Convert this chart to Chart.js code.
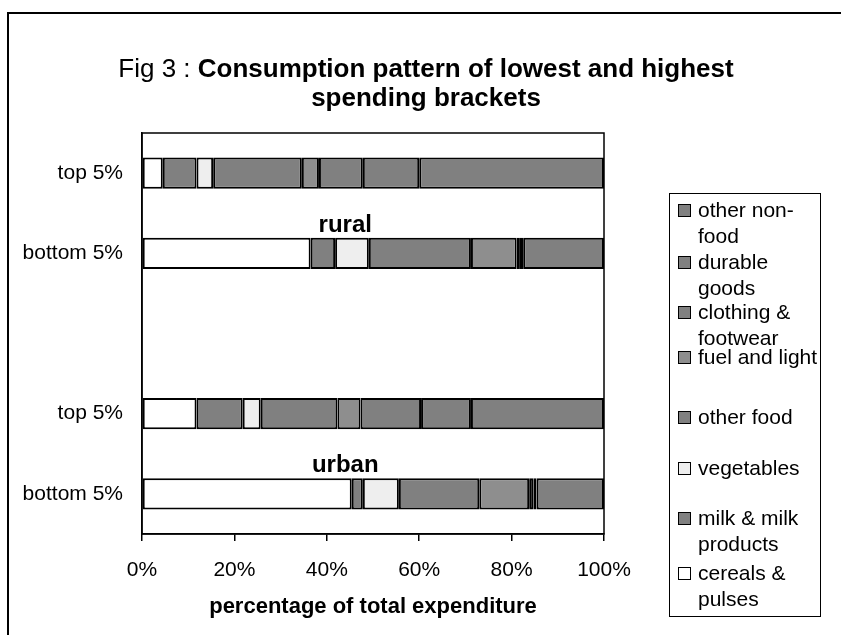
<!DOCTYPE html>
<html>
<head>
<meta charset="utf-8">
<script src="https://cdn.jsdelivr.net/npm/chart.js@4.4.1/dist/chart.umd.min.js"></script>
<style>
    html, body { margin: 0; padding: 0; background: #fff; overflow: hidden; }
    #wrap { position: relative; width: 841px; height: 635px; overflow: hidden; font-family: Arial, "Liberation Sans", sans-serif; color: #000; }
    #frame { position: absolute; left: 7px; top: 12px; width: 900px; height: 700px; border: 2px solid #000; }
    #chart { position: absolute; left: 0; top: 0; }
    #title { position: absolute; left: 0; width: 852px; top: 54px; text-align: center; font-size: 26px; line-height: 29px; }
    #legend { position: absolute; left: 669px; top: 193px; width: 150px; height: 422px; border: 1.5px solid #000; background: #fff; }
    .item { position: absolute; left: 28px; width: 124px; font-size: 21px; line-height: 26px; }
    .sw { position: absolute; left: -20px; top: 7px; width: 11px; height: 11px; border: 1px solid #000; }
</style>
</head>
<body>
<div id="wrap">
    <div id="frame"></div>
    <canvas id="chart" width="841" height="635"></canvas>
    <div id="title">Fig 3 : <b>Consumption pattern of lowest and highest</b><br><b>spending brackets</b></div>
    <div id="legend"></div>
</div>
<script>
// rows from top to bottom, blank row separates rural and urban
const rowLabels = ["top 5%", "bottom 5%", "", "top 5%", "bottom 5%"];
const groupLabels = ["rural", "urban"];
const groupRows = [1, 4];

const seriesNames = ["cereals & pulses", "milk & milk products", "vegetables", "other food",
    "fuel and light", "clothing & footwear", "durable goods", "other non-food"];
const cereals   = [4.5, 36.5, null, 11.8, 45.4];
const milk      = [7.3, 5.3, null, 10.0, 2.4];
const vegetables = [3.6, 7.3, null, 3.9, 7.8];
const otherFood = [19.2, 22.1, null, 16.6, 17.4];
const fuel      = [3.7, 9.9, null, 5.0, 10.8];
const clothing  = [9.5, 0.7, null, 13.1, 0.9];
const durable   = [12.2, 0.7, null, 10.8, 0.7];
const nonFood   = [40.0, 17.5, null, 28.8, 14.6];
const xTicks = [0, 20, 40, 60, 80, 100];

const seriesData = [cereals, milk, vegetables, otherFood, fuel, clothing, durable, nonFood];
const colors = ["#ffffff", "#808080", "#eeeeee", "#808080", "#8e8e8e", "#808080", "#808080", "#808080"];
const family = "Arial, 'Liberation Sans', sans-serif";

const datasets = seriesNames.map((name, i) => ({
    label: name,
    data: seriesData[i],
    backgroundColor: colors[i],
    borderColor: "#000",
    borderWidth: 2,
    borderSkipped: false,
    barPercentage: 0.39,
    categoryPercentage: 1.0,
}));

// plot box and the rural / urban captions
const extras = {
    id: "extras",
    afterDatasetsDraw(chart) {
        const { ctx, chartArea: a, scales } = chart;
        ctx.save();
        ctx.strokeStyle = "#000";
        ctx.lineWidth = 1.5;
        ctx.strokeRect(a.left, a.top, a.right - a.left, a.bottom - a.top);
        ctx.fillStyle = "#000";
        ctx.font = "bold 24px " + family;
        ctx.textAlign = "center";
        ctx.textBaseline = "alphabetic";
        const meta = chart.getDatasetMeta(0);
        groupLabels.forEach((g, i) => {
            const bar = meta.data[groupRows[i]];
            ctx.fillText(g, scales.x.getPixelForValue(44), bar.y - bar.height / 2 - 6);
        });
        ctx.restore();
    }
};

new Chart(document.getElementById("chart"), {
    type: "bar",
    data: { labels: rowLabels, datasets: datasets },
    options: {
        indexAxis: "y",
        responsive: false,
        animation: false,
        layout: { padding: { left: 0, top: 133, right: 237, bottom: 0 } },
        plugins: { legend: { display: false }, tooltip: { enabled: false } },
        scales: {
            x: {
                stacked: true,
                min: 0,
                max: 100,
                afterBuildTicks: (s) => { s.ticks = xTicks.map(v => ({ value: v })); },
                afterFit: (s) => { s.height = 101; },
                ticks: { color: "#000", font: { size: 21, family }, padding: 17, callback: (v) => v + "%" },
                grid: { drawOnChartArea: false, tickLength: 7, color: "#000", lineWidth: 1.5 },
                border: { color: "#000", width: 1.5 },
                title: {
                    display: true,
                    text: "percentage of total expenditure",
                    color: "#000",
                    font: { size: 22, weight: "bold", family },
                    padding: { top: 0, bottom: 15 },
                },
            },
            y: {
                stacked: true,
                afterFit: (s) => { s.width = 142; },
                ticks: { color: "#000", font: { size: 21, family }, padding: 19 },
                grid: { display: false, drawTicks: false },
                border: { color: "#000", width: 1.5 },
            },
        },
    },
    plugins: [extras],
});

// legend, listed in reverse order as in the original
const legendTops = [210, 262, 312, 357, 417, 468, 518, 573];
const legend = document.getElementById("legend");
seriesNames.slice().reverse().forEach((name, k) => {
    const i = seriesNames.length - 1 - k;
    const item = document.createElement("div");
    item.className = "item";
    item.style.top = (legendTops[k] - 13 - 194.5) + "px";
    const sw = document.createElement("span");
    sw.className = "sw";
    sw.style.background = colors[i];
    item.appendChild(sw);
    item.appendChild(document.createTextNode(name));
    legend.appendChild(item);
});
</script>
</body>
</html>
